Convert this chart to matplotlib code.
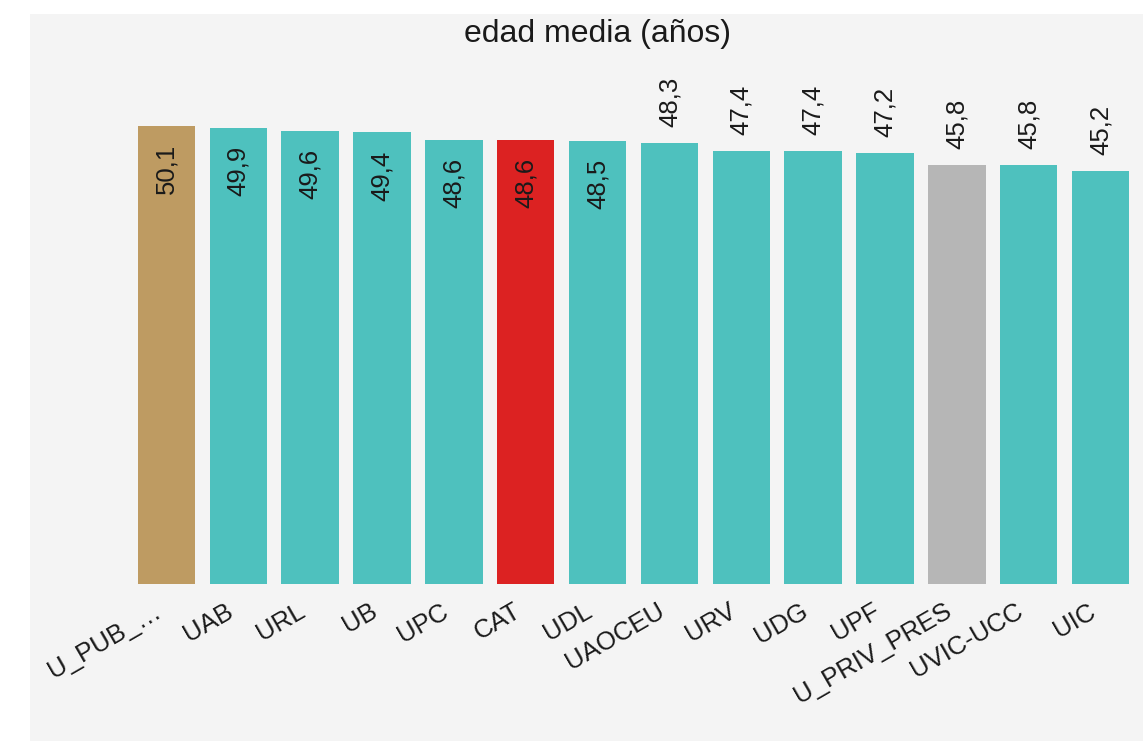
import matplotlib
matplotlib.use("Agg")
import matplotlib.pyplot as plt
from matplotlib.patches import Rectangle

plt.rcParams['font.family'] = ['Liberation Sans', 'DejaVu Sans']

categories = ["U_PUB_…", "UAB", "URL", "UB", "UPC", "CAT", "UDL", "UAOCEU",
              "URV", "UDG", "UPF", "U_PRIV_PRES", "UVIC-UCC", "UIC"]
values = [50.1, 49.9, 49.6, 49.4, 48.6, 48.6, 48.5, 48.3,
          47.4, 47.4, 47.2, 45.8, 45.8, 45.2]
value_labels = ["50,1", "49,9", "49,6", "49,4", "48,6", "48,6", "48,5", "48,3",
                "47,4", "47,4", "47,2", "45,8", "45,8", "45,2"]
colors = ["#be9b62"] + ["#4ec1be"] * 4 + ["#dc2222"] + ["#4ec1be"] * 5 + \
         ["#b6b6b6"] + ["#4ec1be"] * 2
n_inside = 7
title = "edad media (años)"

W, H = 1143, 741
fig = plt.figure(figsize=(W / 100, H / 100), dpi=100)
fig.patch.set_facecolor("white")
bg = "#f4f4f4"
fig.patches.append(Rectangle((30 / W, 0), 1 - 30 / W, 1 - 14 / H,
                             transform=fig.transFigure, facecolor=bg,
                             edgecolor="none", zorder=-10))

left_px, right_px = 130.6, 1136.4
top_px, base_px = 103, 584
ax = fig.add_axes([left_px / W, 1 - base_px / H,
                   (right_px - left_px) / W, (base_px - top_px) / H])
ax.set_facecolor(bg)
ymax = (base_px - top_px) / 9.14

x = list(range(len(categories)))
ax.bar(x, values, width=0.8, color=colors)
ax.set_xlim(-0.5, len(categories) - 0.5)
ax.set_ylim(0, ymax)

for i, (v, lab) in enumerate(zip(values, value_labels)):
    if i < n_inside:
        ax.annotate(lab, (i, v), xytext=(0, -13), textcoords="offset points",
                    rotation=90, ha="center", va="top", fontsize=18.5,
                    color="#1a1a1a")
    else:
        ax.annotate(lab, (i, v), xytext=(0, 11.5), textcoords="offset points",
                    rotation=90, ha="center", va="bottom", fontsize=18.5,
                    color="#1a1a1a")

ax.set_xticks(x)
ax.set_xticklabels([])
ax.tick_params(axis="x", length=0)
for i, lab in enumerate(categories):
    ax.annotate(lab, (i, 0), xytext=(-13, -15), textcoords="offset pixels",
                rotation=30, ha="right", va="top", rotation_mode="anchor",
                fontsize=18.5, color="#1a1a1a", annotation_clip=False)
ax.set_yticks([])
for s in ax.spines.values():
    s.set_visible(False)

fig.text(597.5 / W, 1 - 34 / H, title, ha="center", va="center",
         fontsize=23, color="#1a1a1a")

fig.savefig("out.png", dpi=100, facecolor="white")
